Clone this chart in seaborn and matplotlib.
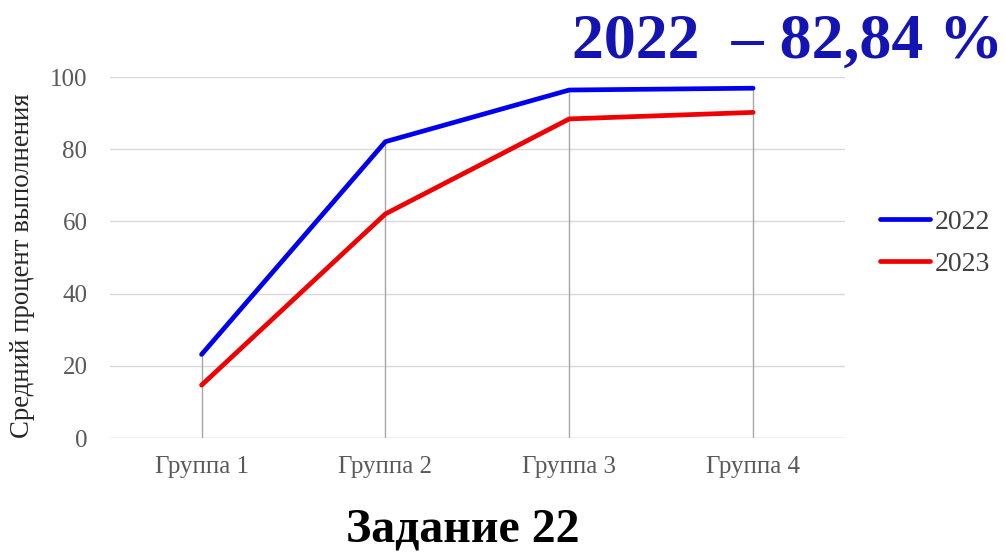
import pandas as pd
import numpy as np
import matplotlib
matplotlib.use('Agg')
import matplotlib.pyplot as plt
import seaborn as sns

# data
groups = ['Группа 1', 'Группа 2', 'Группа 3', 'Группа 4']
y2022 = [23.2, 82.1, 96.4, 96.9]
y2023 = [14.7, 62.1, 88.4, 90.2]
years = ['2022', '2023']
colors = ['#0000f0', '#f00000']

df = pd.DataFrame({
    'group': groups * 2,
    'value': y2022 + y2023,
    'year': [years[0]] * 4 + [years[1]] * 4,
})
df['x'] = df['group'].map({g: i for i, g in enumerate(groups)})

sns.set_style('white')
plt.rcParams['font.family'] = ['Liberation Serif', 'DejaVu Serif']

fig = plt.figure(figsize=(10.06, 5.54), dpi=100)
ax = fig.add_axes([0.109, 0.209, 0.731, 0.652])

# drop lines
tops = df.groupby('x')['value'].max()
ax.vlines(tops.index, 0, tops.values, color='#a6a6a6', lw=1, zorder=1)

sns.lineplot(data=df, x='x', y='value', hue='year', palette=colors,
             linewidth=3.4, ax=ax, zorder=3)

ax.set_xlim(-0.5, 3.5)
ax.set_ylim(0, 100)
ax.set_yticks(range(0, 101, 20))
ax.set_xticks(range(len(groups)))
ax.set_xticklabels(groups)
ax.yaxis.grid(True, color='#d9d9d9', lw=1)
ax.xaxis.grid(False)
sns.despine(ax=ax, left=True, bottom=True)
ax.axhline(0, color='#d9d9d9', lw=1, zorder=0)
ax.tick_params(axis='both', length=0, labelsize=18, colors='#595959')
ax.tick_params(axis='x', pad=13)
ax.tick_params(axis='y', pad=16)
ax.set_xlabel('')
ax.set_ylabel('Средний процент выполнения', fontsize=19.3, color='#262626')
ax.yaxis.set_label_coords(-0.101, 0.478)

leg = ax.legend(loc='center left', bbox_to_anchor=(1.014, 0.54), frameon=False,
                fontsize=20, handlelength=1.8, handletextpad=0.15, labelspacing=0.6)
for t in leg.get_texts():
    t.set_color('#404040')

fig.text(0.997, 0.923, '2022  – 82,84 %', ha='right', va='center',
         fontsize=46, fontweight='bold', color='#1414b4')
fig.text(0.46, 0.045, 'Задание 22', ha='center', va='center',
         fontsize=34.5, fontweight='bold', color='black')

fig.savefig('out.png', dpi=100)
